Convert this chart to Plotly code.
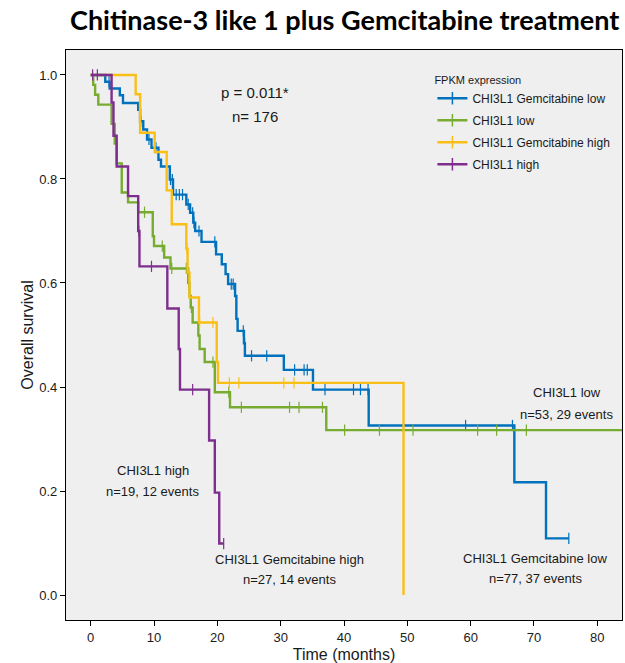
import plotly.graph_objects as go

# ---------------- data ----------------
series_names = ["CHI3L1 Gemcitabine low", "CHI3L1 low", "CHI3L1 Gemcitabine high", "CHI3L1 high"]
series_colors = ["#0072BD", "#77AC30", "#F9BF16", "#7E2F8E"]

blue_t = [0, 2.3, 3.0, 4.6, 5.1, 7.5, 7.8, 8.3, 8.9, 9.6, 10.7, 11.1, 12.5, 13.0, 15.1, 15.7, 16.2,
          16.5, 17.5, 19.8, 20.7, 21.3, 21.7, 22.8, 23.0, 23.2, 24.2, 24.35, 30.5, 35.1, 43.9, 66.9, 71.9]
blue_s = [1.0, 0.987, 0.974, 0.961, 0.946, 0.933, 0.911, 0.895, 0.876, 0.860, 0.837, 0.824, 0.799,
          0.770, 0.751, 0.735, 0.716, 0.700, 0.679, 0.655, 0.636, 0.617, 0.598, 0.575, 0.531, 0.508,
          0.484, 0.460, 0.433, 0.395, 0.326, 0.217, 0.109]
blue_end = 75.5
blue_c = [2.9, 7.9, 9.2, 10.3, 12.6, 12.9, 13.5, 14.0, 14.5, 15.4, 16.1, 16.3, 17.1, 19.6, 22.2,
          22.5, 24.1, 24.3, 25.4, 27.8, 32.2, 33.7, 34.2, 37.0, 41.5, 42.6, 43.8, 59.2, 66.6, 75.5]

green_t = [0, 0.4, 0.7, 1.2, 3.3, 3.8, 4.1, 4.9, 5.9, 7.5, 9.8, 10.0, 11.6, 12.6, 15.4, 15.6, 15.8,
           16.1, 17.0, 17.2, 18.0, 19.6, 22.0, 37.2]
green_s = [1.0, 0.981, 0.962, 0.943, 0.906, 0.868, 0.830, 0.774, 0.755, 0.736, 0.690, 0.671, 0.649,
           0.628, 0.600, 0.575, 0.553, 0.524, 0.499, 0.473, 0.448, 0.390, 0.361, 0.317]
green_end = 86.0
green_c = [8.5, 11.3, 12.8, 15.1, 15.5, 15.9, 19.3, 21.8, 23.8, 31.4, 32.9, 36.6, 40.1, 45.6,
           50.9, 61.1, 64.1, 68.8]

yellow_t = [0, 7.1, 7.8, 10.1, 12.0, 12.8, 15.1, 15.3, 15.6, 17.1, 19.9, 20.1, 49.4]
yellow_s = [1.0, 0.963, 0.889, 0.852, 0.778, 0.713, 0.666, 0.620, 0.572, 0.524, 0.448, 0.408, 0.0]
yellow_end = 49.4
yellow_c = [15.2, 17.2, 19.3, 21.9, 23.4, 30.5, 32.1]

purple_t = [0, 3.3, 3.6, 4.1, 5.9, 7.5, 7.7, 12.1, 13.9, 14.1, 18.7, 19.6, 20.3]
purple_s = [1.0, 0.947, 0.883, 0.824, 0.767, 0.700, 0.632, 0.551, 0.473, 0.395, 0.297, 0.197, 0.099]
purple_end = 21.0
purple_c = [0.3, 1.05, 7.6, 9.6, 16.1, 21.0]

x_ticks = [0, 10, 20, 30, 40, 50, 60, 70, 80]
y_ticks = [0.0, 0.2, 0.4, 0.6, 0.8, 1.0]
y_ticktext = ["0.0", "0.2", "0.4", "0.6", "0.8", "1.0"]

# ---------------- helpers ----------------
def step_xy(t, s, end):
    x = list(t)
    y = list(s)
    if end > t[-1]:
        x.append(end)
        y.append(s[-1])
    return x, y

def surv_at(t, s, tc):
    val = s[0]
    for ti, si in zip(t, s):
        if ti <= tc:
            val = si
        else:
            break
    return val

curves = [
    (blue_t, blue_s, blue_end, blue_c),
    (green_t, green_s, green_end, green_c),
    (yellow_t, yellow_s, yellow_end, yellow_c),
    (purple_t, purple_s, purple_end, purple_c),
]

FONT = "Liberation Sans, Arial, sans-serif"
fig = go.Figure()

for (t, s, end, cens), name, col in zip(curves, series_names, series_colors):
    x, y = step_xy(t, s, end)
    fig.add_trace(go.Scatter(x=x, y=y, mode="lines", line=dict(color=col, width=2.4, shape="hv"),
                             showlegend=False, hoverinfo="skip"))
    fig.add_trace(go.Scatter(x=cens, y=[surv_at(t, s, c) for c in cens], mode="markers",
                             marker=dict(symbol="line-ns", size=8, line=dict(color=col, width=1.2)),
                             showlegend=False, hoverinfo="skip"))

for i, (name, col) in enumerate(zip(series_names, series_colors)):
    fig.add_trace(go.Scatter(x=[None], y=[None], mode="lines+markers", name=name,
                             legendgroup=f"g{i}",
                             line=dict(color=col, width=2.4),
                             marker=dict(symbol="line-ns", size=9, line=dict(color=col, width=1.5))))

annots = [
    dict(x=25.9, y=0.967, text="p = 0.011*", size=15),
    dict(x=25.9, y=0.921, text="n= 176", size=15),
    dict(x=75.2, y=0.390, text="CHI3L1 low", size=13),
    dict(x=75.2, y=0.348, text="n=53, 29 events", size=13),
    dict(x=9.8, y=0.240, text="CHI3L1 high", size=13),
    dict(x=9.8, y=0.199, text="n=19, 12 events", size=13),
    dict(x=31.4, y=0.069, text="CHI3L1 Gemcitabine high", size=13),
    dict(x=31.4, y=0.029, text="n=27, 14 events", size=13),
    dict(x=70.2, y=0.071, text="CHI3L1 Gemcitabine low", size=13),
    dict(x=70.2, y=0.031, text="n=77, 37 events", size=13),
]
for a in annots:
    fig.add_annotation(x=a["x"], y=a["y"], xref="x", yref="y", text=a["text"], showarrow=False,
                       xanchor="center", yanchor="middle",
                       font=dict(family=FONT, size=a["size"], color="#1a1a1a"))

fig.update_layout(
    width=625, height=663,
    margin=dict(l=66, r=2, t=50, b=41),
    paper_bgcolor="white", plot_bgcolor="#efefef",
    title=dict(text="<b>Chitinase-3 like 1 plus Gemcitabine treatment</b>",
               x=0.5515, xanchor="center", y=1 - 21 / 663, yanchor="middle",
               font=dict(family="Lato, sans-serif", size=27, color="black")),
    legend=dict(x=0.659, y=0.966, xanchor="left", yanchor="top",
                bgcolor="rgba(0,0,0,0)", tracegroupgap=3,
                title=dict(text="FPKM expression", font=dict(family=FONT, size=11, color="#1a1a1a")),
                font=dict(family=FONT, size=12, color="#1a1a1a")),
    xaxis=dict(range=[-3.9, 83.9], tickvals=x_ticks, ticks="outside", ticklen=5, tickwidth=1.2,
               tickcolor="black", showline=True, linecolor="black", linewidth=1.3, mirror=True,
               showgrid=False, zeroline=False,
               tickfont=dict(family=FONT, size=13, color="#1a1a1a"),
               title=dict(text="Time (months)", standoff=5,
                          font=dict(family=FONT, size=16, color="#1a1a1a"))),
    yaxis=dict(range=[-0.048, 1.048], tickvals=y_ticks, ticktext=y_ticktext, ticks="outside",
               ticklen=5, tickwidth=1.2, tickcolor="black", showline=True, linecolor="black",
               linewidth=1.3, mirror=True, showgrid=False, zeroline=False,
               tickfont=dict(family=FONT, size=13, color="#1a1a1a"),
               title=dict(text="Overall survival", standoff=1,
                          font=dict(family=FONT, size=16, color="#1a1a1a"))),
)

fig.write_html("out.html")
